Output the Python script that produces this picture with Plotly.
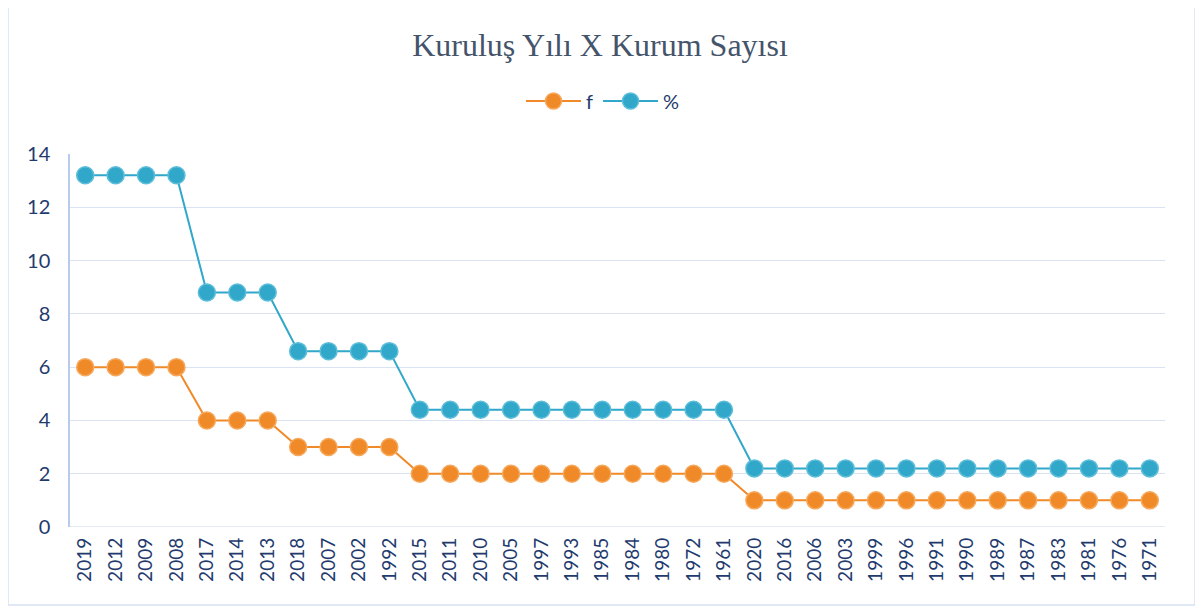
import plotly.graph_objects as go

categories = ["2019", "2012", "2009", "2008", "2017", "2014", "2013", "2018", "2007", "2002",
              "1992", "2015", "2011", "2010", "2005", "1997", "1993", "1985", "1984", "1980",
              "1972", "1961", "2020", "2016", "2006", "2003", "1999", "1996", "1991", "1990",
              "1989", "1987", "1983", "1981", "1976", "1971"]
f_values = [6, 6, 6, 6, 4, 4, 4, 3, 3, 3, 3, 2, 2, 2, 2, 2, 2, 2, 2, 2, 2, 2,
            1, 1, 1, 1, 1, 1, 1, 1, 1, 1, 1, 1, 1, 1]
pct_values = [13.2, 13.2, 13.2, 13.2, 8.8, 8.8, 8.8, 6.6, 6.6, 6.6, 6.6,
              4.4, 4.4, 4.4, 4.4, 4.4, 4.4, 4.4, 4.4, 4.4, 4.4, 4.4,
              2.2, 2.2, 2.2, 2.2, 2.2, 2.2, 2.2, 2.2, 2.2, 2.2, 2.2, 2.2, 2.2, 2.2]
y_ticks = [0, 2, 4, 6, 8, 10, 12, 14]

orange = "#F08A28"
teal = "#31A7C9"
text_col = "#1F3B6E"

fig = go.Figure()
fig.add_trace(go.Scatter(
    x=categories, y=f_values, name="f", mode="lines+markers",
    line=dict(color=orange, width=2),
    marker=dict(color=orange, size=17, line=dict(color="#F6A85C", width=1.5)),
))
fig.add_trace(go.Scatter(
    x=categories, y=pct_values, name="%", mode="lines+markers",
    line=dict(color=teal, width=2),
    marker=dict(color=teal, size=17, line=dict(color="#5DBEDA", width=1.5)),
))

OFF = 8  # page body offset
W, H = 1203, 610
ml, mr, mt, mb = 70 - OFF, 38 + OFF, 154 - OFF, 83 + OFF
pw, ph = W - ml - mr, H - mt - mb

def px(x):
    return (x - OFF - ml) / pw

def py(y):
    return (H - mb - (y - OFF)) / ph

fig.update_layout(
    width=W, height=H,
    margin=dict(l=ml, r=mr, t=mt, b=mb, autoexpand=False),
    paper_bgcolor="white", plot_bgcolor="white",
    title=dict(text="Kuruluş Yılı X Kurum Sayısı", x=(600 - OFF) / W, xanchor="center",
               y=1 - (45 - OFF) / H, yanchor="middle",
               font=dict(family="Liberation Serif", size=32, color="#44546A")),
    legend=dict(orientation="h", x=px(603), xanchor="center", y=py(101), yanchor="middle",
                font=dict(family="Lato", size=20, color=text_col),
                itemwidth=55, tracegroupgap=0, bgcolor="rgba(0,0,0,0)"),
    showlegend=True,
    xaxis=dict(type="category", range=[-0.5, len(categories) - 0.5], automargin=False,
               tickangle=-90, tickfont=dict(family="Lato", size=19, color=text_col),
               showgrid=False, showline=False, ticks="", zeroline=False,
               ticklabelstandoff=6),
    yaxis=dict(range=[0, 14], tickvals=y_ticks, showgrid=True, gridcolor="#D9E3F3",
               gridwidth=1.3, zeroline=False, showline=True, linecolor="#B7CBEA", linewidth=1.5,
               tickfont=dict(family="Lato", size=20, color=text_col), ticks="",
               ticklabelstandoff=14, automargin=False),
    shapes=[
        dict(type="rect", xref="paper", yref="paper",
             x0=px(8), x1=px(1195), y0=py(605), y1=py(5),
             line=dict(color="#D6E1F2", width=1.5), fillcolor="rgba(0,0,0,0)", layer="below"),
        dict(type="line", xref="paper", yref="y", x0=0, x1=1, y0=0, y1=0,
             line=dict(color="#D9E3F3", width=1.5), layer="below"),
    ],
)

fig.write_html("out.html")
